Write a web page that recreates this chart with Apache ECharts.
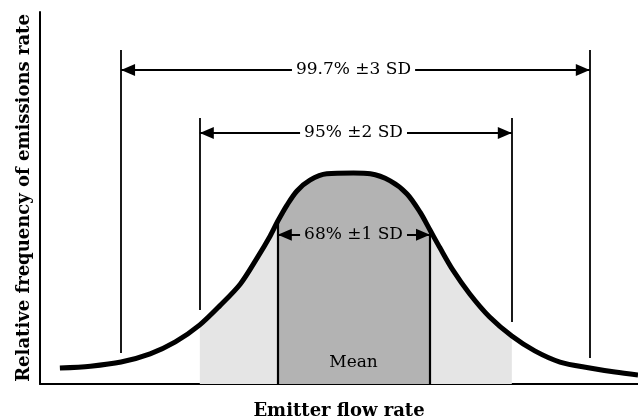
<!DOCTYPE html>
<html>
<head>
<meta charset="utf-8">
<script src="https://cdn.jsdelivr.net/npm/echarts@6/dist/echarts.min.js"></script>
<style>
  html, body { margin: 0; padding: 0; background: #fff; }
  #chart { width: 638px; height: 420px; }
</style>
</head>
<body>
<div id="chart"></div>
<script>
// x in standard deviations from the mean, y = relative frequency (arbitrary units)
var curveX = [-3.84, -3.44, -3.04, -2.66, -2.33, -2.01, -1.75, -1.48, -1.26, -1.09, -0.99, -0.87, -0.74, -0.57, -0.35, 0.00,
  0.22, 0.48, 0.70, 0.87, 1.00, 1.13, 1.30, 1.52, 1.78, 2.07, 2.37, 2.70, 3.09, 3.42, 3.72];
var curveY = [4.3, 4.8, 5.9, 8.1, 11.3, 15.9, 21.0, 26.9, 33.9, 39.8, 43.8, 48.1, 51.9, 54.8, 56.5, 56.7,
  56.5, 54.6, 51.1, 46.2, 41.4, 36.6, 30.6, 24.2, 18.0, 12.9, 8.9, 5.9, 4.3, 3.2, 2.4];

var sd1 = [-0.99, 1.00];
var sd2 = [-2.01, 2.07];
var sd3 = [-3.04, 3.09];

var bandLabels = ['68% ±1 SD', '95% ±2 SD', '99.7% ±3 SD'];
var arrowY = [40.1, 67.5, 84.4];
var guideTop = [71.5, 89.8];            // top of the ±2 and ±3 SD guide lines
var guideBottomLeft = [19.9, 8.3];
var guideBottomRight = [16.7, 7.0];
var sd1Top = [43.8, 41.4];              // where the ±1 SD lines meet the curve
var meanLabelY = 5.8;

var curve = curveX.map(function (x, i) { return [x, curveY[i]]; });

function band(lo, hi) {
  return curve.filter(function (p) { return p[0] >= lo - 1e-9 && p[0] <= hi + 1e-9; });
}

function vline(x, y1, y2, w) {
  return [{ coord: [x, y1], symbol: 'none', lineStyle: { width: w } }, { coord: [x, y2], symbol: 'none' }];
}

function arrow(lo, hi, y) {
  var head = { symbol: 'triangle', symbolSize: [12, 14], symbolOffset: [0, 7] };
  return [
    Object.assign({ coord: [lo, y] }, head),
    Object.assign({ coord: [hi, y] }, head)
  ];
}

var chart = echarts.init(document.getElementById('chart'));

var markData = [
  vline(sd1[0], sd1Top[0], 0, 2.2),
  vline(sd1[1], sd1Top[1], 0, 2.2),
  vline(sd2[0], guideTop[0], guideBottomLeft[0], 1.8),
  vline(sd2[1], guideTop[0], guideBottomRight[0], 1.8),
  vline(sd3[0], guideTop[1], guideBottomLeft[1], 1.8),
  vline(sd3[1], guideTop[1], guideBottomRight[1], 1.8),
  arrow(sd1[0], sd1[1], arrowY[0]),
  arrow(sd2[0], sd2[1], arrowY[1]),
  arrow(sd3[0], sd3[1], arrowY[2])
];

var labelData = [
  { value: [0, arrowY[0], bandLabels[0]], label: { backgroundColor: '#b3b3b3' } },
  { value: [0, arrowY[1], bandLabels[1]] },
  { value: [0, arrowY[2], bandLabels[2]] },
  { value: [0, meanLabelY, 'Mean'], label: { backgroundColor: 'transparent' } }
];

var titleFont = { fontFamily: 'DejaVu Serif', fontWeight: 'bold', fontSize: 18, color: '#000' };
var smoothness = 0.3;

var option = {
  animation: false,
  grid: { left: 40, right: 0, top: 12, bottom: 36, outerBoundsMode: 'none', containLabel: false },
  xAxis: {
    type: 'value',
    min: -4.1,
    max: 3.72,
    name: 'Emitter flow rate',
    nameLocation: 'middle',
    nameGap: 18,
    nameTextStyle: titleFont,
    axisLine: { show: true, onZero: false, lineStyle: { color: '#000', width: 2 } },
    axisTick: { show: false },
    axisLabel: { show: false },
    splitLine: { show: false }
  },
  yAxis: {
    type: 'value',
    min: 0,
    max: 100,
    name: 'Relative frequency of emissions rate',
    nameLocation: 'middle',
    nameGap: 7,
    nameTextStyle: titleFont,
    axisLine: { show: true, onZero: false, lineStyle: { color: '#000', width: 2 } },
    axisTick: { show: false },
    axisLabel: { show: false },
    splitLine: { show: false }
  },
  series: [
    {
      type: 'line',
      data: band(sd2[0], sd2[1]),
      smooth: smoothness,
      symbol: 'none',
      lineStyle: { width: 0 },
      areaStyle: { color: '#e5e5e5', opacity: 1 },
      silent: true
    },
    {
      type: 'line',
      data: band(sd1[0], sd1[1]),
      smooth: smoothness,
      symbol: 'none',
      lineStyle: { width: 0 },
      areaStyle: { color: '#b3b3b3', opacity: 1 },
      silent: true
    },
    {
      type: 'line',
      data: curve,
      smooth: smoothness,
      symbol: 'none',
      lineStyle: { color: '#000', width: 5 },
      silent: true,
      markLine: {
        silent: true,
        animation: false,
        label: { show: false },
        lineStyle: { color: '#000', type: 'solid', width: 2 },
        data: markData
      }
    },
    {
      type: 'scatter',
      data: labelData,
      symbolSize: 0,
      itemStyle: { opacity: 1 },
      zlevel: 1,
      z: 10,
      silent: true,
      label: {
        show: true,
        position: 'inside',
        formatter: function (p) { return p.data.value[2]; },
        fontFamily: 'DejaVu Serif',
        fontSize: 17,
        color: '#000',
        opacity: 1,
        textBorderWidth: 0,
        backgroundColor: '#fff',
        padding: [0, 4]
      }
    }
  ]
};

chart.setOption(option);
</script>
</body>
</html>
